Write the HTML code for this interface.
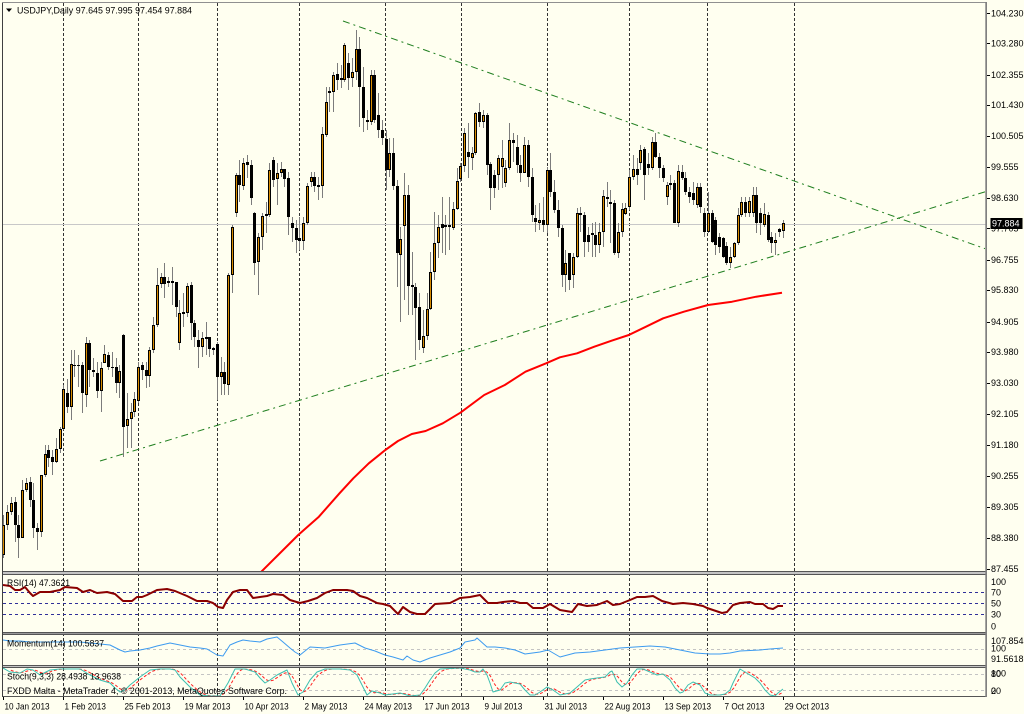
<!DOCTYPE html>
<html><head><meta charset="utf-8">
<style>
html,body{margin:0;padding:0;background:#FFFFF0;overflow:hidden;}
svg{display:block;}
text{font-family:"Liberation Sans",sans-serif;font-size:9px;fill:#000;}
</style></head>
<body>
<svg id="c" width="1024" height="714" viewBox="0 0 1024 714" xmlns="http://www.w3.org/2000/svg">
<defs>
<clipPath id="mainclip"><rect x="3" y="3" width="982" height="568"/></clipPath>
<clipPath id="rsiclip"><rect x="3" y="575" width="982" height="57"/></clipPath>
<clipPath id="momclip"><rect x="3" y="635" width="982" height="30"/></clipPath>
<clipPath id="stoclip"><rect x="3" y="668" width="982" height="28"/></clipPath>
</defs>
<rect width="1024" height="714" fill="#FFFFF0"/>

<!-- vertical grid -->
<g stroke="#333" stroke-width="1" stroke-dasharray="3,2">
<line x1="63.5" y1="3" x2="63.5" y2="696"/>
<line x1="138.5" y1="3" x2="138.5" y2="696"/>
<line x1="217.5" y1="3" x2="217.5" y2="696"/>
<line x1="299.5" y1="3" x2="299.5" y2="696"/>
<line x1="385.5" y1="3" x2="385.5" y2="696"/>
<line x1="461.5" y1="3" x2="461.5" y2="696"/>
<line x1="547.5" y1="3" x2="547.5" y2="696"/>
<line x1="629.5" y1="3" x2="629.5" y2="696"/>
<line x1="707.5" y1="3" x2="707.5" y2="696"/>
<line x1="794.5" y1="3" x2="794.5" y2="696"/>
</g>

<!-- bid line -->
<line x1="3" y1="224.5" x2="986" y2="224.5" stroke="#c8c8c8" stroke-width="1"/>

<!-- indicator levels -->
<g stroke="#30309a" stroke-width="1" stroke-dasharray="3,3">
<line x1="3" y1="592.5" x2="985" y2="592.5"/>
<line x1="3" y1="603.5" x2="985" y2="603.5"/>
<line x1="3" y1="614.5" x2="985" y2="614.5"/>
</g>
<g stroke="#c4c4c4" stroke-width="1" stroke-dasharray="3,3">
<line x1="3" y1="649.5" x2="985" y2="649.5"/>
<line x1="3" y1="674.5" x2="985" y2="674.5"/>
<line x1="3" y1="690.5" x2="985" y2="690.5"/>
</g>

<g id="candles" clip-path="url(#mainclip)"></g>

<!-- moving average -->
<polyline clip-path="url(#mainclip)" fill="none" stroke="#ff0000" stroke-width="2" stroke-linejoin="round"
points="255,578 260.3,572.7 298.2,535 318.9,516.7 339.5,493.3 353.3,478.3 368.8,463.3 385.3,450 398,441 411.8,434 425.6,431 442.8,423.3 460.4,412.7 484.2,395 504.8,385 525.5,371.7 546.1,363.3 559.9,357.3 577.1,353.3 594.3,346.7 611.6,340.7 628.8,335 646,326.7 663.2,318.3 683.9,311.7 708,305 732.1,301.7 756.2,296.7 782,292.7"/>

<!-- trendlines -->
<g clip-path="url(#mainclip)" stroke="#1f7f1f" stroke-width="1" stroke-dasharray="7,4,2,4" fill="none">
<line x1="343" y1="21" x2="986" y2="249"/>
<line x1="100" y1="461" x2="986" y2="191.5"/>
</g>

<!-- RSI -->
<polyline clip-path="url(#rsiclip)" fill="none" stroke="#8b0000" stroke-width="2" stroke-linejoin="round"
points="3,585 10,586 15,590 20,590 25,587 30,593 33,596 40,592 50,592 60,590 65,587 77,588 83,592 90,590 97,593 107,592 115,594 123,601 132,601 137,597 142,597 147,595 157,590 167,589 175,591 187,596 197,601 207,601 213,603 218,607 223,608 227,600 233,592 240,590 247,590 253,598 260,597 267,596 273,594 283,595 290,600 300,603 308,601 317,598 325,593 333,590 347,590 353,591 360,596 367,598 377,603 383,604 390,606 398,614 403,607 410,612 417,614 425,614 435,604 450,603 460,598 470,597 480,595 488,603 497,603 503,602 513,601 520,603 527,603 533,608 543,608 550,604 560,610 572,612 578,604 587,606 597,605 607,601 613,605 620,604 630,600 637,597 645,597 653,596 662,601 673,604 683,603 693,604 703,606 707,608 713,610 722,613 727,612 733,605 740,603 750,602 755,604 763,604 768,608 773,609 778,606 783,606"/>

<!-- Momentum -->
<polyline clip-path="url(#momclip)" fill="none" stroke="#3d9bf0" stroke-width="1" stroke-linejoin="round"
points="3,640 10,641 20,641 30,642 40,642 60,642 80,642 100,644 110,645 120,650 125,652 130,651 140,650 150,648 157,646 170,643 180,645 190,647 200,648 207,649 217,655 223,656 230,645 237,642 243,640 250,641 260,642 267,639 277,637 283,642 290,648 295,652 300,655 310,647 325,648 340,645 355,643 365,648 375,651 385,655 393,657 403,660 407,656 413,660 420,662 430,658 440,655 450,652 460,648 465,642 475,640 477,638 487,647 495,647 505,648 515,650 525,654 540,652 548,650 560,657 575,653 590,652 605,650 620,648 635,647 650,646 665,647 680,650 695,653 710,654 720,654 730,653 740,651 760,650 770,649 783,648"/>

<!-- Stochastic -->
<g id="stoch" clip-path="url(#stoclip)">
<polyline id="stmain" fill="none" stroke="#3cbfb0" stroke-width="1" stroke-linejoin="round"
points="3,668 10,672 20,673 27,669 33,670 40,675 50,670 60,669 80,669 90,675 100,680 110,683 115,688 120,692 125,690 130,685 140,677 150,670 160,669 170,669 175,670 180,677 190,687 200,695 210,696 220,696 228,683 235,669 245,669 255,672 260,678 265,683 270,680 277,675 283,672 287,670 292,683 298,695 303,692 310,680 317,672 325,669 340,669 350,670 357,675 362,685 367,695 372,691 380,693 385,695 400,693 410,696 420,695 425,688 430,680 435,673 440,669 460,668 470,670 475,672 480,672 483,669 487,675 490,683 493,692 500,690 505,683 510,682 515,683 520,684 525,690 530,695 535,695 540,692 547,687 553,690 560,695 570,693 577,687 585,680 590,679 597,678 605,677 610,672 612,671 617,682 622,687 627,683 632,675 637,669 643,669 650,672 657,675 663,674 670,680 675,688 680,693 683,692 688,685 693,682 700,685 705,693 710,695 720,695 725,694 730,690 733,683 737,675 740,669 745,672 750,675 755,678 760,683 765,690 770,695 775,696 778,693 783,689"/>
</g>

<!-- separators & frame -->
<g>
<rect x="2" y="571" width="985" height="4" fill="#c4c4c4"/>
<line x1="2" y1="571.5" x2="987" y2="571.5" stroke="#555"/>
<line x1="2" y1="574.5" x2="987" y2="574.5" stroke="#555"/>
<rect x="2" y="632" width="985" height="3" fill="#9a9a9a"/>
<line x1="2" y1="632.5" x2="987" y2="632.5" stroke="#555"/>
<line x1="2" y1="634.5" x2="987" y2="634.5" stroke="#555"/>
<rect x="2" y="665" width="985" height="3" fill="#c4c4c4"/>
<line x1="2" y1="665.5" x2="987" y2="665.5" stroke="#555"/>
<line x1="2" y1="667.5" x2="987" y2="667.5" stroke="#555"/>
<line x1="2" y1="696.5" x2="987" y2="696.5" stroke="#555"/>
<line x1="2.5" y1="2" x2="2.5" y2="697" stroke="#404040"/>
<line x1="2" y1="2.5" x2="987" y2="2.5" stroke="#909090"/>
<rect x="985.3" y="2" width="1.7" height="695" fill="#808080"/>
</g>

<!-- price ticks -->
<g stroke="#000" stroke-width="1">
<line x1="987" y1="13.5" x2="990" y2="13.5"/><line x1="987" y1="43.5" x2="990" y2="43.5"/>
<line x1="987" y1="75.5" x2="990" y2="75.5"/><line x1="987" y1="105.5" x2="990" y2="105.5"/>
<line x1="987" y1="136.5" x2="990" y2="136.5"/><line x1="987" y1="167.5" x2="990" y2="167.5"/>
<line x1="987" y1="198.5" x2="990" y2="198.5"/><line x1="987" y1="228.5" x2="990" y2="228.5"/>
<line x1="987" y1="260.5" x2="990" y2="260.5"/><line x1="987" y1="290.5" x2="990" y2="290.5"/>
<line x1="987" y1="322.5" x2="990" y2="322.5"/><line x1="987" y1="352.5" x2="990" y2="352.5"/>
<line x1="987" y1="383.5" x2="990" y2="383.5"/><line x1="987" y1="414.5" x2="990" y2="414.5"/>
<line x1="987" y1="445.5" x2="990" y2="445.5"/><line x1="987" y1="476.5" x2="990" y2="476.5"/>
<line x1="987" y1="507.5" x2="990" y2="507.5"/><line x1="987" y1="538.5" x2="990" y2="538.5"/>
<line x1="987" y1="569.5" x2="990" y2="569.5"/>
</g>
<g>
<text x="991" y="16.5">104.230</text>
<text x="991" y="46.5">103.280</text>
<text x="991" y="78.2">102.355</text>
<text x="991" y="108.2">101.430</text>
<text x="991" y="139.2">100.505</text>
<text x="991" y="170.2">99.555</text>
<text x="991" y="201.2">98.630</text>
<text x="991" y="231.7">97.705</text>
<text x="991" y="263.2">96.755</text>
<text x="991" y="293.2">95.830</text>
<text x="991" y="325.2">94.905</text>
<text x="991" y="355.2">93.980</text>
<text x="991" y="386.2">93.030</text>
<text x="991" y="417.2">92.105</text>
<text x="991" y="448.2">91.180</text>
<text x="991" y="479.2">90.255</text>
<text x="991" y="510.2">89.305</text>
<text x="991" y="541.2">88.380</text>
<text x="991" y="572.2">87.455</text>
</g>
<rect x="990.5" y="218" width="32" height="11" fill="#000"/>
<text x="992" y="226.6" style="fill:#fff">97.884</text>

<!-- sub-panel scale labels -->
<g>
<text x="991" y="585">100</text>
<text x="991" y="595.5">70</text>
<text x="991" y="606.5">50</text>
<text x="991" y="617.5">30</text>
<text x="991" y="629.5">0</text>
<text x="991" y="644.2">107.8545</text>
<text x="991" y="651.5">100</text>
<text x="991" y="662.2">91.5618</text>
<text x="991" y="676.3">100</text>
<text x="991" y="676.8">80</text>
<text x="991" y="694.2">20</text>
<text x="991" y="694.2">0</text>
</g>

<!-- headers -->
<polygon points="6,8.5 12,8.5 9,12" fill="#000"/>
<text x="17" y="13.5" textLength="175" lengthAdjust="spacingAndGlyphs">USDJPY,Daily  97.645 97.995 97.454 97.884</text>
<text x="7" y="586" textLength="63" lengthAdjust="spacingAndGlyphs">RSI(14) 47.3621</text>
<text x="7" y="646.5" textLength="97" lengthAdjust="spacingAndGlyphs">Momentum(14) 100.5837</text>
<text x="7" y="679.5" textLength="114" lengthAdjust="spacingAndGlyphs">Stoch(9,3,3) 28.4938 13.9638</text>
<text x="7" y="694" textLength="280" lengthAdjust="spacingAndGlyphs">FXDD Malta - MetaTrader 4, © 2001-2013, MetaQuotes Software Corp.</text>

<!-- date axis -->
<g id="dates"></g>
</svg>
<script>
(function(){
var NS="http://www.w3.org/2000/svg";
var C=[[515,558,525,555,1],[505,530,512,525,1],[497,515,503,512,1],[497,542,502,525,0],[515,558,525,538,0],[480,538,490,538,1],[478,492,483,490,1],[477,507,482,500,0],[483,538,500,528,0],[523,550,528,532,0],
[475,537,475,532,1],[445,477,454,475,1],[445,467,450,458,0],[450,475,457,462,0],[438,463,449,462,1],[427,453,429,449,1],[385,430,389,429,1],[379,413,393,407,0],[350,420,364,407,1],[350,377,365,366,0],
[355,387,365,366,1],[362,413,365,393,0],[337,407,343,395,1],[340,387,343,370,0],[358,377,370,372,0],[362,398,373,391,0],[362,412,368,391,1],[345,363,354,363,1],[352,370,355,367,0],[352,377,367,368,0],
[358,393,367,383,0],[365,398,371,383,1],[334,457,335,427,0],[393,448,419,426,1],[403,448,412,419,1],[392,417,399,412,1],[362,403,367,401,1],[362,380,365,370,0],[362,388,370,376,0],[347,387,350,376,1],
[317,353,325,350,1],[268,327,285,325,1],[273,288,277,284,1],[263,298,277,284,0],[277,287,281,283,0],[267,305,281,283,1],[282,317,282,307,0],[300,350,313,343,1],[293,327,312,314,0],[283,317,286,313,1],
[282,340,285,323,0],[320,347,323,337,0],[330,368,340,347,0],[332,357,338,347,1],[322,355,337,339,1],[337,357,337,349,0],[347,355,348,350,0],[342,400,344,377,0],[357,395,372,377,1],[362,395,372,384,0],
[273,395,275,385,1],[225,293,227,275,1],[173,217,175,213,1],[160,202,175,185,0],[158,190,163,186,1],[155,178,162,165,0],[160,205,165,198,0],[212,275,213,263,0],[233,295,237,262,1],[213,250,216,237,1],
[202,233,214,216,1],[163,217,170,215,1],[157,187,160,180,0],[163,205,173,179,1],[162,177,169,173,1],[169,187,169,179,0],[172,235,178,217,0],[217,242,223,228,0],[220,253,228,240,0],[217,250,238,241,0],
[217,250,223,241,1],[183,225,186,223,1],[172,187,177,182,1],[172,192,177,186,0],[177,200,185,187,0],[127,198,134,186,1],[87,137,102,135,1],[87,112,91,93,1],[72,112,75,92,1],[63,90,74,80,0],
[65,88,78,80,0],[43,82,45,80,1],[53,90,63,78,0],[58,87,72,78,1],[30,80,49,72,1],[37,127,49,87,0],[67,132,87,118,0],[110,130,120,122,0],[70,125,75,122,1],[70,123,75,120,0],
[93,138,115,130,0],[120,145,130,138,0],[130,190,139,170,0],[138,177,153,170,1],[138,190,153,186,0],[180,287,186,253,0],[227,322,239,255,1],[173,300,195,226,1],[185,315,195,286,0],[252,315,285,287,0],
[283,360,287,308,0],[293,350,307,340,0],[310,353,336,348,1],[293,340,309,336,1],[252,310,272,309,1],[212,280,243,272,1],[215,258,227,243,1],[197,253,224,228,0],[215,255,225,227,0],[197,250,225,227,1],
[202,230,209,228,1],[168,210,181,209,1],[163,182,166,179,1],[128,172,133,166,1],[123,178,152,157,0],[147,170,153,158,1],[112,155,113,153,1],[103,127,112,122,0],[110,128,115,122,1],[113,175,115,165,0],
[162,210,164,188,0],[170,198,175,188,0],[155,190,158,175,1],[140,188,158,167,1],[160,187,168,183,1],[123,170,140,168,1],[133,162,140,143,0],[135,173,147,165,0],[155,182,165,173,0],[137,173,145,173,1],
[140,187,145,177,0],[168,222,177,215,0],[205,232,218,222,0],[203,230,220,223,1],[197,232,220,225,0],[167,233,170,225,1],[153,197,170,192,0],[180,213,192,210,0],[200,237,210,228,0],[225,287,228,275,0],
[250,292,263,275,1],[253,290,253,280,0],[253,288,257,275,1],[208,258,213,257,1],[207,232,213,215,0],[212,257,215,242,0],[227,252,235,242,0],[223,257,233,235,0],[222,257,235,245,0],[223,253,232,245,1],
[190,247,196,232,1],[182,207,197,199,1],[190,243,202,204,0],[200,255,203,253,0],[223,258,232,253,1],[203,237,209,232,1],[203,215,208,214,1],[170,210,177,207,1],[155,180,169,177,1],[158,185,169,175,0],
[145,170,150,163,1],[147,200,149,175,0],[153,175,164,168,0],[137,170,142,168,1],[133,158,142,157,0],[153,178,157,168,0],[165,182,168,178,0],[182,205,185,197,1],[175,190,183,185,0],[180,223,183,223,0],
[165,227,171,223,1],[165,180,172,178,0],[172,195,178,192,0],[187,203,192,197,0],[182,205,193,200,0],[183,208,187,205,1],[183,213,187,207,0],[208,237,213,232,0],[192,233,213,232,1],[210,243,213,242,0],
[217,255,220,245,0],[233,253,237,247,0],[237,258,238,257,0],[242,265,246,263,0],[247,268,257,263,1],[242,258,243,257,1],[208,245,215,243,1],[197,217,202,215,1],[197,217,202,213,0],[197,217,201,213,1],
[187,217,195,213,1],[187,233,195,223,0],[208,235,213,223,0],[203,227,214,225,1],[212,242,215,240,0],[232,253,237,243,0],[233,255,240,243,1],[228,237,229,232,0],[220,238,223,231,1]];
var n=C.length,x0=3.3,dx=(782.7-3.3)/(n-1);
var wick="",doji="",bull="",bear="";
for(var i=0;i<n;i++){
  var c=C[i],X=Math.round(x0+i*dx),h=c[0],l=c[1],t=c[2],b=c[3],u=c[4];
  wick+="M"+(X+0.5)+" "+h+"V"+l;
  if(b-t<2){doji+="M"+(X-1)+" "+(t+0.5)+"H"+(X+2);}
  else if(u){bull+='<rect x="'+(X-0.5)+'" y="'+(t+0.5)+'" width="2" height="'+(b-t-1)+'"/>';}
  else{bear+='<rect x="'+(X-1)+'" y="'+t+'" width="3" height="'+(b-t)+'"/>';}
}
var g=document.getElementById("candles");
g.innerHTML='<path d="'+wick+'" stroke="#7c7c7c" stroke-width="1" fill="none"/>'+
 '<path d="'+doji+'" stroke="#000" stroke-width="1" fill="none"/>'+
 '<g fill="#d98c00" stroke="#000" stroke-width="1">'+bull+'</g>'+
 '<g fill="#000">'+bear+'</g>';

// stochastic signal
var pl=document.getElementById("stmain").getAttribute("points").trim().split(/\s+/).map(function(p){var a=p.split(",");return [+a[0],+a[1]];});
function interp(x){for(var k=1;k<pl.length;k++){if(x<=pl[k][0]){var a=pl[k-1],bb=pl[k];var tt=(x-a[0])/((bb[0]-a[0])||1);return a[1]+tt*(bb[1]-a[1]);}}return pl[pl.length-1][1];}
var m=[];for(var j=0;j<n;j++){m.push(interp(x0+j*dx));}
var sp=[];for(var j=2;j<n;j++){sp.push((x0+j*dx).toFixed(1)+","+((m[j]+m[j-1]+m[j-2])/3).toFixed(1));}
var s=document.createElementNS(NS,"polyline");
s.setAttribute("points",sp.join(" "));s.setAttribute("fill","none");s.setAttribute("stroke","#ff2020");
s.setAttribute("stroke-width","1");s.setAttribute("stroke-dasharray","3,2");
document.getElementById("stoch").insertBefore(s,document.getElementById("stmain"));

// date axis
var labels=["10 Jan 2013","1 Feb 2013","25 Feb 2013","19 Mar 2013","10 Apr 2013","2 May 2013","24 May 2013","17 Jun 2013","9 Jul 2013","31 Jul 2013","22 Aug 2013","13 Sep 2013","7 Oct 2013","29 Oct 2013"];
var dg=document.getElementById("dates");
for(var k=0;k<labels.length;k++){
  var xt=Math.round(3.3+59.95*k)+0.5;
  var ln=document.createElementNS(NS,"line");
  ln.setAttribute("x1",xt);ln.setAttribute("x2",xt);ln.setAttribute("y1",697);ln.setAttribute("y2",700);
  ln.setAttribute("stroke","#000");dg.appendChild(ln);
  var tx=document.createElementNS(NS,"text");
  tx.setAttribute("x",xt+1);tx.setAttribute("y",709.5);tx.textContent=labels[k];dg.appendChild(tx);
  try{var w=tx.getComputedTextLength();if(w>0){tx.setAttribute("textLength",(w*0.91).toFixed(1));tx.setAttribute("lengthAdjust","spacingAndGlyphs");}}catch(e){}
}
})();
</script>
</body></html>
